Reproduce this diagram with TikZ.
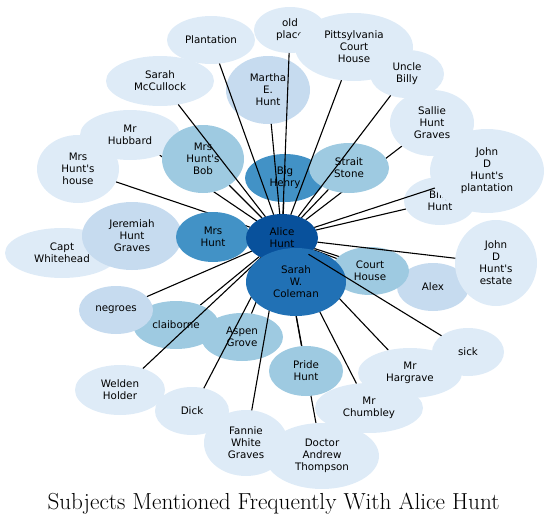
\documentclass[tikz,border=0pt]{standalone}
\usepackage{fontspec}
\newfontfamily\nodefont{DejaVu Sans}
\usetikzlibrary{shapes.geometric,calc}
\definecolor{bA}{HTML}{DEEBF7}
\definecolor{bB}{HTML}{C6DBEF}
\definecolor{bC}{HTML}{9ECAE1}
\definecolor{bD}{HTML}{4292C6}
\definecolor{bE}{HTML}{2171B5}
\definecolor{bF}{HTML}{08519C}
\tikzset{
  shp/.style={ellipse, inner sep=0pt, outer sep=0pt, draw=none},
  lbl/.style={font=\nodefont\fontsize{10.3}{12}\selectfont, align=center, inner sep=0pt, text=black},
  link/.style={draw=black, line width=1.1pt},
}
\newcommand\place[5]{\node[shp, minimum width=#4pt, minimum height=#5pt] (#1) at (#2,#3) {};}
\newcommand\bubble[3]{%
  \path[fill=#2] let \p0=(#1.center), \p1=(#1.east), \p2=(#1.south) in
    (\p0) ellipse [x radius={\x1-\x0}, y radius={\y0-\y2}];
  \node[lbl] (#1-t) at (#1.center) {#3};}
\newcommand\link[1]{\draw[link] (alice) -- (#1);}
\begin{document}
\begin{tikzpicture}[x=1pt,y=-1pt]
\useasboundingbox (0,0) rectangle (547,525);
% node geometry
\place{oldplace}{290}{30}{72}{46}
\place{pitt}{354}{47}{118}{68}
\place{billy}{407}{74}{74}{48}
\place{plantation}{211}{40}{88}{48}
\place{martha}{268}{90}{84}{68}
\place{mccullock}{160}{81}{108}{50}
\place{hubbard}{130}{135}{100}{50}
\place{mrshouse}{78}{169}{82}{68}
\place{sallie}{432}{123}{84}{66}
\place{bihunt}{440}{201}{72}{48}
\place{jdplant}{487}{171}{114}{84}
\place{alex}{433}{287}{72}{48}
\place{estate}{496}{263}{82}{86}
\place{capt}{62}{253}{114}{50}
\place{jeremiah}{132}{236}{100}{68}
\place{mrshunt}{213}{237}{74}{50}
\place{alice}{282}{238}{72}{48}
\place{bob}{203}{159}{82}{68}
\place{bighenry}{285}{178}{80}{48}
\place{strait}{349}{168}{80}{50}
\place{courthouse}{370}{271}{78}{48}
\place{coleman}{296}{282}{100}{68}
\place{aspen}{242}{337}{82}{48}
\place{claiborne}{176}{325}{86}{48}
\place{negroes}{116}{310}{74}{48}
\place{pride}{306}{371}{74}{50}
\place{welden}{120}{390}{90}{50}
\place{dick}{192}{411}{74}{48}
\place{fannie}{246}{443}{84}{66}
\place{doctor}{322}{456}{114}{66}
\place{chumbley}{369}{408}{108}{50}
\place{hargrave}{410}{373}{104}{50}
\place{sick}{468}{352}{72}{48}
% early edges (covered by nodes)
\link{capt}\link{jeremiah}\link{mrshunt}\link{coleman}\link{hubbard}
\link{sallie}\link{alex}\link{pride}\link{doctor}\link{hargrave}
\link{chumbley}\link{aspen}\link{courthouse}\link{bob}\link{bighenry}
\link{strait}\link{claiborne}\link{negroes}\link{mrshouse}\link{bihunt}
% nodes
\bubble{oldplace}{bA}{old\\place}
\bubble{pitt}{bA}{Pittsylvania\\Court\\House}
\bubble{billy}{bA}{Uncle\\Billy}
\bubble{plantation}{bA}{Plantation}
\bubble{martha}{bB}{Martha\\E.\\Hunt}
\bubble{mccullock}{bA}{Sarah\\McCullock}
\bubble{hubbard}{bA}{Mr\\Hubbard}
\bubble{mrshouse}{bA}{Mrs\\Hunt's\\house}
\bubble{sallie}{bA}{Sallie\\Hunt\\Graves}
\bubble{bihunt}{bA}{Billy\\Hunt}
\bubble{jdplant}{bA}{John\\D\\Hunt's\\plantation}
\bubble{alex}{bB}{Alex}
\bubble{estate}{bA}{John\\D\\Hunt's\\estate}
\bubble{capt}{bA}{Capt\\Whitehead}
\bubble{jeremiah}{bB}{Jeremiah\\Hunt\\Graves}
\bubble{mrshunt}{bD}{Mrs\\Hunt}
\bubble{alice}{bF}{Alice\\Hunt}
\bubble{bob}{bC}{Mrs\\Hunt's\\Bob}
\bubble{bighenry}{bD}{Big\\Henry}
\bubble{strait}{bC}{Strait\\Stone}
\bubble{courthouse}{bC}{Court\\House}
\bubble{claiborne}{bC}{claiborne}
\bubble{negroes}{bB}{negroes}
\bubble{aspen}{bC}{Aspen\\Grove}
\bubble{welden}{bA}{Welden\\Holder}
\bubble{dick}{bA}{Dick}
\bubble{fannie}{bA}{Fannie\\White\\Graves}
\bubble{doctor}{bA}{Doctor\\Andrew\\Thompson}
\bubble{pride}{bC}{Pride\\Hunt}
\bubble{hargrave}{bA}{Mr\\Hargrave}
\bubble{sick}{bA}{sick}
\bubble{chumbley}{bA}{Mr\\Chumbley}
% edges over some nodes
\link{welden}\link{dick}\link{fannie}
\bubble{coleman}{bE}{Sarah\\W.\\Coleman}
\link{sick}\link{estate}\link{jdplant}
\link{plantation}\link{mccullock}\link{martha}\link{oldplace}\link{pitt}\link{billy}
% title
\node[font=\fontsize{23.2}{27}\selectfont, anchor=base, inner sep=0pt] (title) at (273.5,509) {Subjects Mentioned Frequently With Alice Hunt};
\end{tikzpicture}
\end{document}
